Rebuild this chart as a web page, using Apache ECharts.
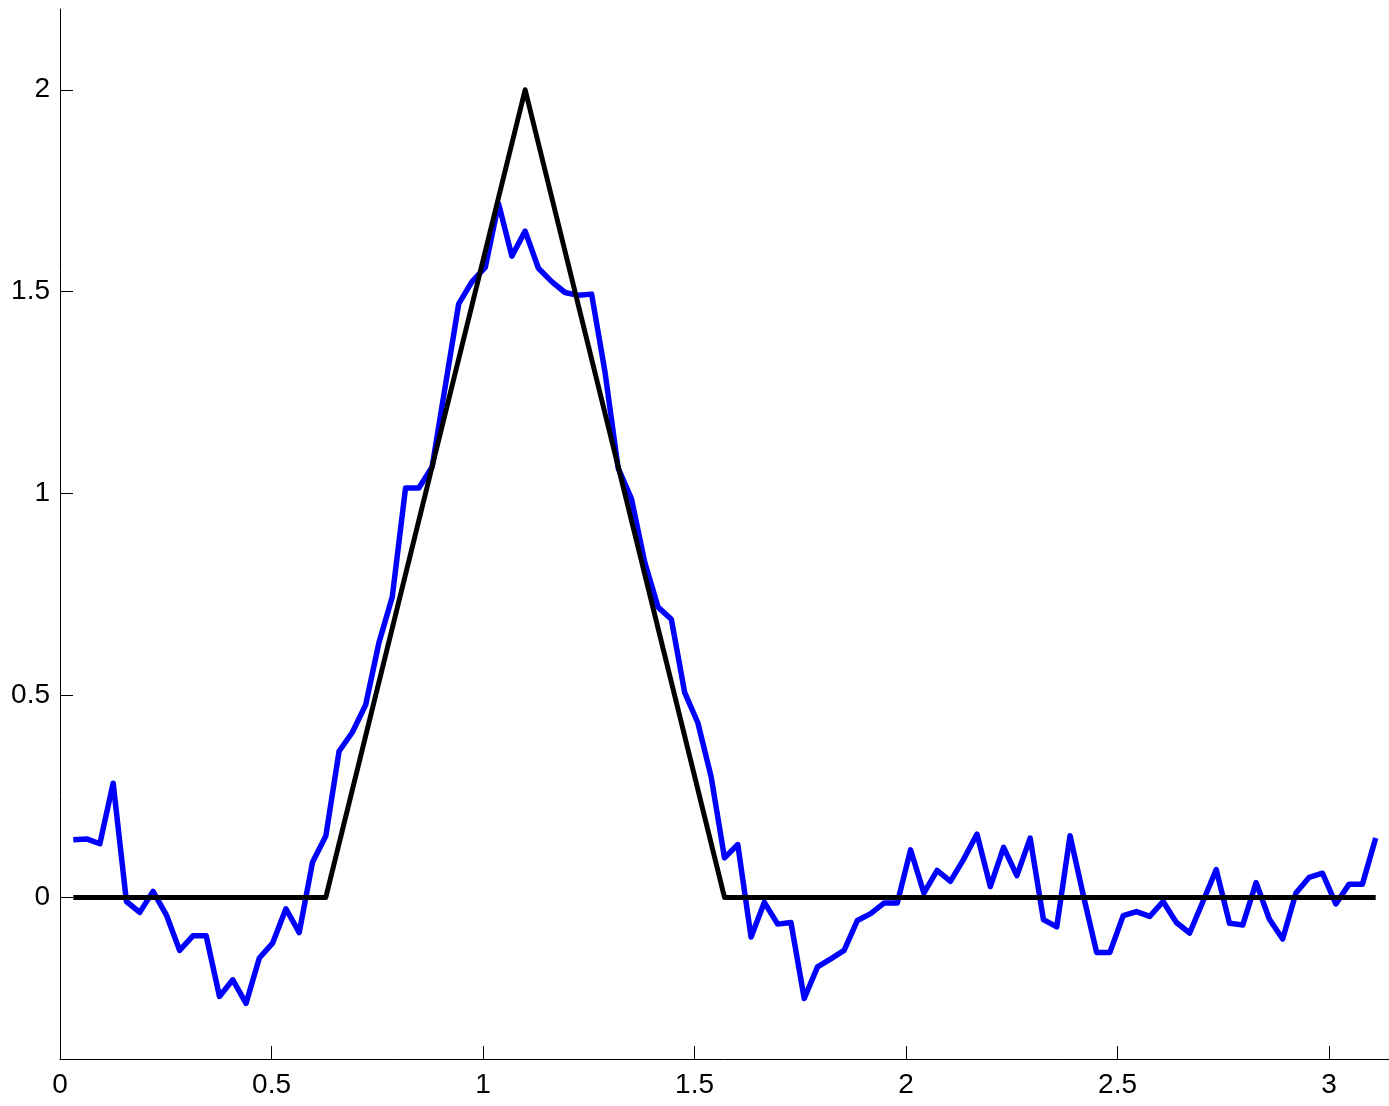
<!DOCTYPE html>
<html>
<head>
<meta charset="utf-8">
<script src="https://cdn.jsdelivr.net/npm/echarts@6/dist/echarts.min.js"></script>
<style>
html,body{margin:0;padding:0;background:#fff;}
#chart{width:1389px;height:1106px;}
</style>
</head>
<body>
<div id="chart"></div>
<script>
// Sample index grid: x_i = i*pi/100, i = 1..99
const sampleIdx = Array.from({length: 99}, (_, k) => k + 1);
const xSamples = sampleIdx.map(i => i * Math.PI / 100);

// Noisy estimate (blue)
const noisyValues = [
  0.143, 0.145, 0.133, 0.283, -0.010, -0.037, 0.015, -0.043, -0.131, -0.095,
  -0.095, -0.245, -0.204, -0.262, -0.150, -0.113, -0.028, -0.087, 0.087, 0.152,
  0.362, 0.409, 0.477, 0.631, 0.744, 1.014, 1.014, 1.066, 1.268, 1.470,
  1.525, 1.560, 1.718, 1.588, 1.650, 1.558, 1.525, 1.498, 1.491, 1.494,
  1.303, 1.063, 0.987, 0.830, 0.719, 0.689, 0.508, 0.432, 0.298, 0.098,
  0.131, -0.098, -0.012, -0.066, -0.062, -0.250, -0.172, -0.152, -0.131, -0.057,
  -0.040, -0.014, -0.014, 0.118, 0.011, 0.067, 0.040, 0.095, 0.157, 0.027,
  0.124, 0.054, 0.147, -0.055, -0.073, 0.153, 0.005, -0.136, -0.136, -0.045,
  -0.035, -0.047, -0.010, -0.062, -0.088, -0.010, 0.069, -0.064, -0.068, 0.037,
  -0.054, -0.103, 0.011, 0.050, 0.060, -0.016, 0.033, 0.033, 0.147
];

// True triangular signal (black)
const trueX = [Math.PI / 100, Math.PI / 5, 0.35 * Math.PI, Math.PI / 2, 0.99 * Math.PI];
const trueY = [0, 0, 2, 0, 0];

// Tick labels
const xTicks = [0, 0.5, 1, 1.5, 2, 2.5, 3];
const yTicks = [0, 0.5, 1, 1.5, 2];

const chart = echarts.init(document.getElementById('chart'), null, {renderer: 'canvas'});
const font = 'Liberation Sans, Arial, Helvetica, sans-serif';

chart.setOption({
  animation: false,
  backgroundColor: '#ffffff',
  grid: {left: 60, top: 9, width: Math.PI * 423.67, height: 1050, containLabel: false},
  xAxis: {
    type: 'value',
    min: 0,
    max: Math.PI,
    axisLine: {show: true, onZero: false, lineStyle: {color: '#000', width: 1}},
    axisTick: {show: true, inside: true, length: 13, customValues: xTicks, lineStyle: {color: '#000', width: 1}},
    axisLabel: {show: true, customValues: xTicks, color: '#000', fontSize: 28, fontFamily: font, margin: 12,
      formatter: v => String(v)},
    splitLine: {show: false}
  },
  yAxis: {
    type: 'value',
    min: -0.4,
    max: 2.2,
    axisLine: {show: true, onZero: false, lineStyle: {color: '#000', width: 1}},
    axisTick: {show: true, inside: true, length: 13, customValues: yTicks, lineStyle: {color: '#000', width: 1}},
    axisLabel: {show: true, customValues: yTicks, color: '#000', fontSize: 28, fontFamily: font, margin: 10,
      formatter: v => String(v)},
    splitLine: {show: false}
  },
  series: [
    {
      type: 'line',
      data: xSamples.map((x, k) => [x, noisyValues[k]]),
      showSymbol: false,
      symbol: 'none',
      lineStyle: {color: '#0000ff', width: 5.5, join: 'round'},
      z: 2
    },
    {
      type: 'line',
      data: trueX.map((x, k) => [x, trueY[k]]),
      showSymbol: false,
      symbol: 'none',
      lineStyle: {color: '#000000', width: 5, join: 'round'},
      z: 3
    }
  ]
});
</script>
</body>
</html>
